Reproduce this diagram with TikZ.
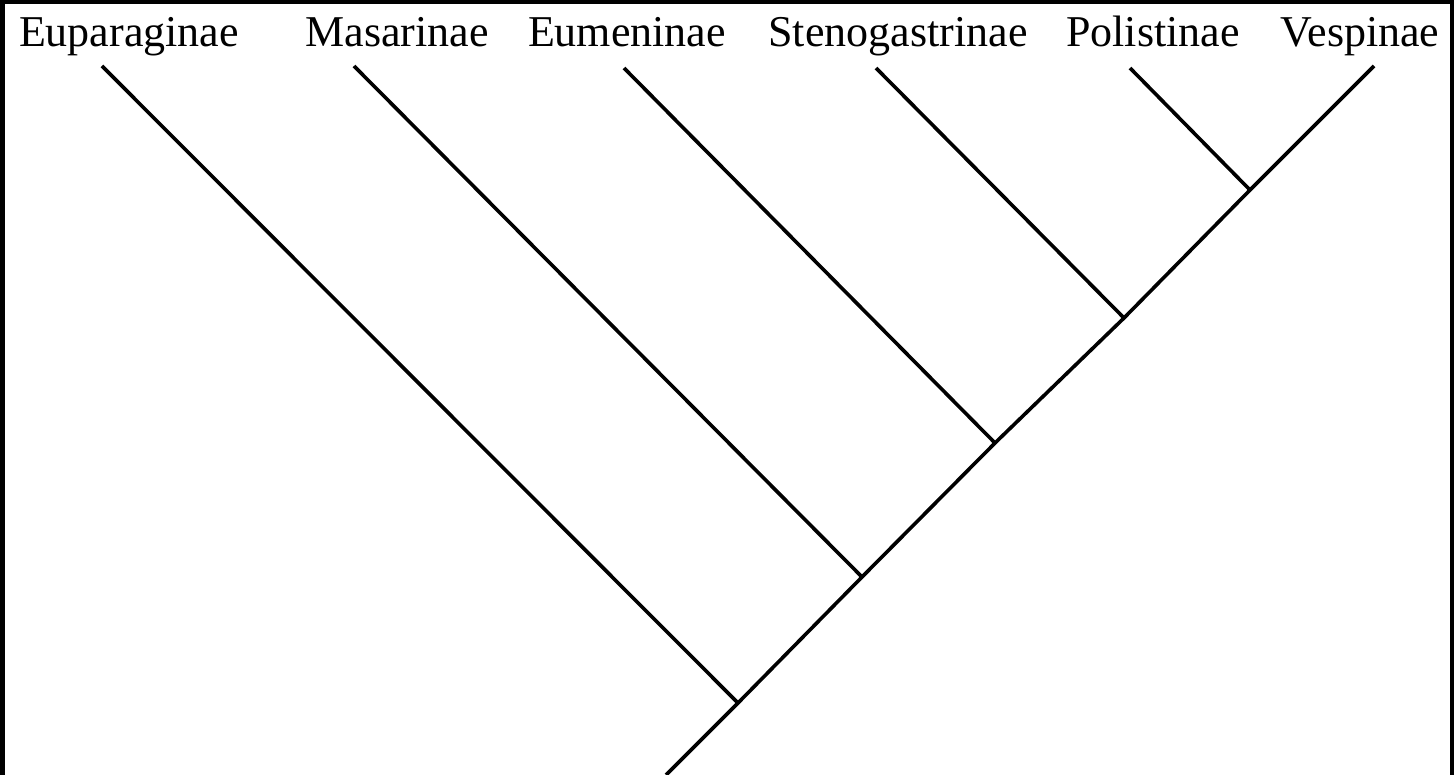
\documentclass[tikz,border=0pt]{standalone}
\usepackage{fontspec}
\setmainfont{Liberation Serif}
\begin{document}
\begin{tikzpicture}[x=1pt,y=-1pt,
  branch/.style={line width=3.6pt,line cap=butt,black},
  taxon/.style={anchor=base,inner sep=0pt,font=\fontsize{44}{44}\selectfont}]
\useasboundingbox (0,0) rectangle (1454,775);
\fill[white] (0,0) rectangle (1454,775);
\fill[black] (0,0) rectangle (5,775);
\fill[black] (0,0) rectangle (1454,4);
\fill[black] (1450,0) rectangle (1454,775);
% labels
\node[taxon] (eup) at (129,47) {Euparaginae};
\node[taxon] (mas) at (397,47) {Masarinae};
\node[taxon] (eum) at (627,47) {Eumeninae};
\node[taxon] (ste) at (898,47) {Stenogastrinae};
\node[taxon] (pol) at (1153,47) {Polistinae};
\node[taxon] (ves) at (1360,47) {Vespinae};
% tips
\coordinate (tEup) at (102,66);
\coordinate (tMas) at (354,66);
\coordinate (tEum) at (624,68);
\coordinate (tSte) at (876,68);
\coordinate (tPol) at (1130,68);
\coordinate (tVes) at (1374,66);
% junctions
\coordinate (j5) at (1250,190);
\coordinate (j4) at (1124,318);
\coordinate (j3) at (995,443);
\coordinate (j2) at (862,577);
\coordinate (j1) at (738,703);
\coordinate (root) at (666,775);
% branches
\draw[branch] (tVes) -- (j5) -- (j4) -- (j3) -- (j2) -- (j1) -- (root);
\draw[branch] (tPol) -- (j5);
\draw[branch] (tSte) -- (j4);
\draw[branch] (tEum) -- (j3);
\draw[branch] (tMas) -- (j2);
\draw[branch] (tEup) -- (j1);
\end{tikzpicture}
\end{document}
